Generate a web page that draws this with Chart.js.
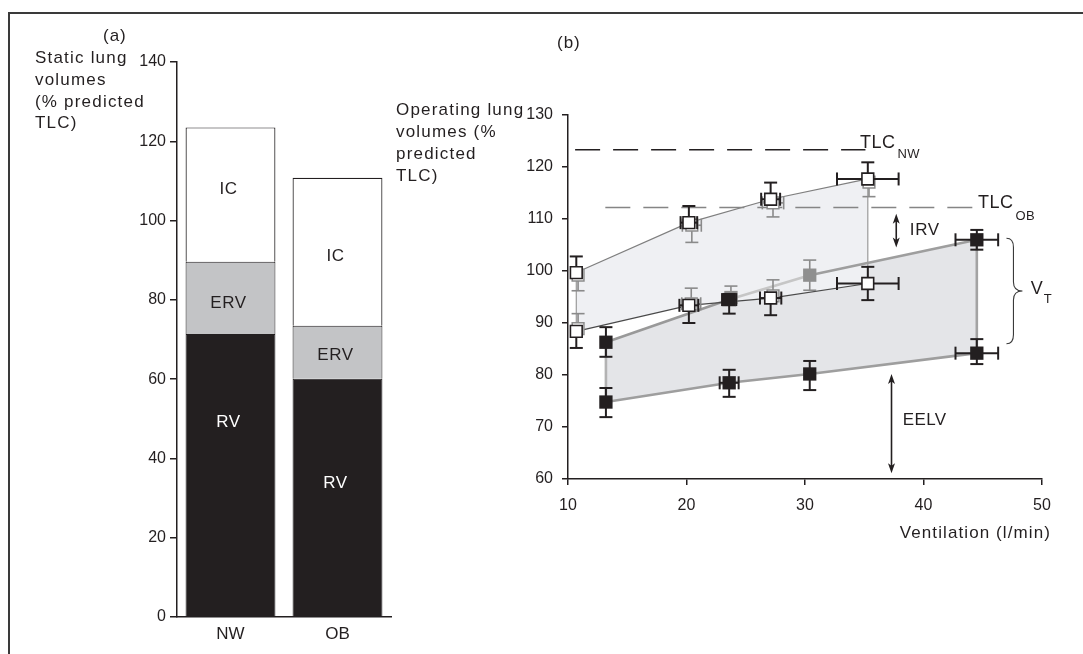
<!DOCTYPE html>
<html><head><meta charset="utf-8">
<script src="https://cdn.jsdelivr.net/npm/chart.js@4"></script>
<style>
html,body{margin:0;padding:0;background:#fff;width:1083px;height:654px;overflow:hidden;}
#frame{position:absolute;left:8px;top:12px;width:1200px;height:800px;border-left:2px solid #3a3a3a;border-top:2px solid #3a3a3a;}
#ca{position:absolute;left:0;top:0;}
#cb{position:absolute;left:392px;top:0;}
</style></head><body>
<div id="frame"></div>
<canvas id="ca" width="392" height="654"></canvas>
<canvas id="cb" width="691" height="654"></canvas>
<script>
// ---------------- Panel (a): static lung volumes ----------------
const barCategories = ['NW', 'OB'];
const rvValues  = [71.4, 60.1];
const ervValues = [18.2, 13.4];
const icValues  = [33.9, 37.3];
const staticTicks = {min: 0, max: 140, step: 20};

// ---------------- Panel (b): operating lung volumes ----------------
// NW, black open squares: first four = upper (inspiratory) curve, last four = end-expiratory curve
const nwX       = [10.7, 20.2, 27.1, 35.3, 10.7, 20.2, 27.1, 35.3];
const nwY       = [99.7, 109.3, 113.8, 117.7, 88.4, 93.4, 94.8, 97.6];
const nwErrUp   = [3.1, 3.2, 3.2, 3.2, 0, 0, 0, 3.2];
const nwErrDown = [0, 0, 0, 0, 3.2, 3.4, 3.3, 3.2];
const nwErrX    = [0, 0.7, 0.8, 2.6, 0, 0.8, 0.9, 2.6];

// grey open squares
const nwGX       = [10.85, 20.45, 27.3, 35.4, 10.85, 20.4, 27.3];
const nwGY       = [99.2, 108.8, 113.1, 117.1, 88.9, 93.7, 95.2];
const nwGErrUp   = [0, 0, 0, 0, 2.9, 3.0, 3.1];
const nwGErrDown = [3.0, 3.3, 2.7, 2.8, 0, 0, 0];
const nwGErrX    = [0, 0.8, 0.9, 0, 0, 0.8, 0];

// OB, black filled squares
const obX       = [13.2, 23.6, 44.5, 13.2, 23.6, 30.4, 44.5];
const obY       = [86.3, 94.5, 106.0, 74.8, 78.5, 80.2, 84.2];
const obErrUp   = [2.9, 0, 1.9, 2.7, 2.5, 2.5, 2.7];
const obErrDown = [2.8, 2.7, 1.9, 2.9, 2.7, 3.1, 2.1];
const obErrX    = [0, 0.6, 1.8, 0, 0.8, 0, 1.8];

// grey filled squares
const obGX       = [23.75, 30.4];
const obGY       = [94.9, 99.2];
const obGErrUp   = [2.2, 2.9];
const obGErrDown = [0, 2.9];

// OB operating envelope
const obUpperX = [13.2, 23.6, 30.4, 44.5];
const obUpperY = [86.3, 94.5, 99.2, 106.0];
const obLowerX = [13.2, 23.6, 30.4, 44.5];
const obLowerY = [74.8, 78.5, 80.2, 84.2];

// TLC reference levels
const tlcNW = 123.3, tlcNWFrom = 10.6, tlcNWTo = 35.1;
const tlcOB = 112.2, tlcOBFrom = 13.15, tlcOBTo = 44.5;

// ---------------- helpers ----------------
const FONT = '"Liberation Sans", Arial, Helvetica, sans-serif';
const INK = '#231f20';
const pts = (xs, ys) => xs.map((x, i) => ({x, y: ys[i]}));

function txt(ctx, s, x, y, size, o = {}) {
  ctx.save();
  ctx.font = size + 'px ' + FONT;
  ctx.fillStyle = o.color || INK;
  ctx.textAlign = o.align || 'left';
  ctx.textBaseline = o.baseline || 'middle';
  if ('letterSpacing' in ctx) ctx.letterSpacing = (o.ls === undefined ? 1 : o.ls) + 'px';
  ctx.fillText(s, x, y);
  const w = ctx.measureText(s).width;
  ctx.restore();
  return w;
}
function seg(ctx, x1, y1, x2, y2) { ctx.beginPath(); ctx.moveTo(x1, y1); ctx.lineTo(x2, y2); ctx.stroke(); }
function head(ctx, x, y, dir) { // dir -1 = up, +1 = down
  ctx.beginPath(); ctx.moveTo(x, y); ctx.lineTo(x - 3.5, y - dir * 10); ctx.lineTo(x, y - dir * 7.5); ctx.lineTo(x + 3.5, y - dir * 10); ctx.closePath(); ctx.fill();
}
function dblArrow(ctx, x, yTop, yBot) {
  ctx.save(); ctx.strokeStyle = INK; ctx.fillStyle = INK; ctx.lineWidth = 1.6;
  seg(ctx, x, yTop + 6, x, yBot - 6); head(ctx, x, yTop, -1); head(ctx, x, yBot, 1); ctx.restore();
}

// ---------------- Panel (a) chart ----------------
const leftText = {
  id: 'leftText',
  afterDraw(chart) {
    const ctx = chart.ctx, xs = chart.scales.x, ys = chart.scales.y;
    txt(ctx, '(a)', 103, 36, 17);
    ['Static lung', 'volumes', '(% predicted', 'TLC)'].forEach((s, i) => txt(ctx, s, 35, 58.5 + i * 21.7, 17, {ls: 1.2}));
    const labels = [
      {s: 'IC', c: 0, v: 108, col: INK}, {s: 'ERV', c: 0, v: 79.2, col: INK}, {s: 'RV', c: 0, v: 49.2, col: '#fff'},
      {s: 'IC', c: 1, v: 91, col: INK}, {s: 'ERV', c: 1, v: 66, col: INK}, {s: 'RV', c: 1, v: 33.8, col: '#fff'}
    ];
    labels.forEach(l => txt(ctx, l.s, xs.getPixelForValue(l.c) - 2, ys.getPixelForValue(l.v), 17, {align: 'center', color: l.col, ls: 0.6}));
  }
};

new Chart(document.getElementById('ca'), {
  type: 'bar',
  data: {
    labels: barCategories,
    datasets: [
      {label: 'RV', data: rvValues, backgroundColor: INK, borderColor: INK, borderWidth: 1},
      {label: 'ERV', data: ervValues, backgroundColor: '#c3c4c6', borderColor: INK, borderWidth: 1},
      {label: 'IC', data: icValues, backgroundColor: '#ffffff', borderColor: INK, borderWidth: 1.2}
    ]
  },
  options: {
    responsive: false, animation: false, events: [],
    layout: {padding: {left: 0, top: 62, right: 1, bottom: 0}},
    plugins: {legend: {display: false}, tooltip: {enabled: false}},
    datasets: {bar: {categoryPercentage: 1, barPercentage: 0.84}},
    scales: {
      x: {stacked: true, grid: {display: false, drawTicks: false}, border: {color: INK, width: 1.5},
          ticks: {font: {family: FONT, size: 17}, color: INK, padding: 7}, afterFit(s) { s.height = 37; }},
      y: {stacked: true, min: staticTicks.min, max: staticTicks.max,
          ticks: {stepSize: staticTicks.step, font: {family: FONT, size: 16}, color: INK, padding: 4},
          grid: {drawOnChartArea: false, drawTicks: true, tickLength: 7, color: INK, lineWidth: 1.5},
          border: {color: INK, width: 1.5}, afterFit(s) { s.width = 177; }}
    }
  },
  plugins: [leftText]
});

// ---------------- Panel (b) chart ----------------
const OFF = 392;
const errorBars = {
  id: 'errorBars',
  beforeDatasetDraw(chart, args) {
    const ds = chart.data.datasets[args.index];
    const e = ds.errors; if (!e) return;
    const ctx = chart.ctx, xs = chart.scales.x, ys = chart.scales.y, cap = 6.5;
    ctx.save(); ctx.strokeStyle = e.color; ctx.lineWidth = e.width;
    ds.data.forEach((p, i) => {
      const px = xs.getPixelForValue(p.x), py = ys.getPixelForValue(p.y);
      if (e.up && e.up[i]) { const y2 = ys.getPixelForValue(p.y + e.up[i]); seg(ctx, px, py, px, y2); seg(ctx, px - cap, y2, px + cap, y2); }
      if (e.down && e.down[i]) { const y2 = ys.getPixelForValue(p.y - e.down[i]); seg(ctx, px, py, px, y2); seg(ctx, px - cap, y2, px + cap, y2); }
      if (e.x && e.x[i]) {
        const x1 = xs.getPixelForValue(p.x - e.x[i]), x2 = xs.getPixelForValue(p.x + e.x[i]);
        seg(ctx, x1, py, x2, py); seg(ctx, x1, py - cap, x1, py + cap); seg(ctx, x2, py - cap, x2, py + cap);
      }
    });
    ctx.restore();
  }
};

const rightText = {
  id: 'rightText',
  afterDraw(chart) {
    const ctx = chart.ctx, xs = chart.scales.x, ys = chart.scales.y;
    const X = v => xs.getPixelForValue(v), Y = v => ys.getPixelForValue(v);
    txt(ctx, '(b)', 557 - OFF, 43, 17);
    ['Operating lung', 'volumes (%', 'predicted', 'TLC)'].forEach((s, i) => txt(ctx, s, 396 - OFF, 110.5 + i * 21.8, 17, {ls: 1.2}));
    txt(ctx, 'Ventilation (l/min)', 1051 - OFF, 533, 17, {align: 'right', ls: 1.1});
    // TLC labels
    let w = txt(ctx, 'TLC', X(34.65), Y(tlcNW) - 2, 18, {baseline: 'alphabetic', ls: 0.5});
    txt(ctx, 'NW', X(34.65) + w + 2, Y(tlcNW) + 8.5, 13, {baseline: 'alphabetic', ls: 0.3});
    w = txt(ctx, 'TLC', X(44.6), Y(tlcOB) + 0.5, 18, {baseline: 'alphabetic', ls: 0.5});
    txt(ctx, 'OB', X(44.6) + w + 2, Y(tlcOB) + 12, 13, {baseline: 'alphabetic', ls: 0.3});
    // IRV
    dblArrow(ctx, X(37.7), Y(111.0), Y(104.5));
    txt(ctx, 'IRV', X(38.85), Y(107.9), 17, {ls: 0.6});
    // EELV
    dblArrow(ctx, X(37.3), Y(80.2), Y(61.1));
    txt(ctx, 'EELV', X(38.25), Y(71.3), 17, {ls: 0.4});
    // V_T brace
    const x0 = X(47.0), yT = Y(106.3), yB = Y(86.0), ym = (yT + yB) / 2, xm = x0 + 7, xt = x0 + 16, r = 9;
    ctx.save(); ctx.strokeStyle = '#3a3a3a'; ctx.lineWidth = 1.1; ctx.beginPath();
    ctx.moveTo(x0, yT); ctx.quadraticCurveTo(xm, yT, xm, yT + r); ctx.lineTo(xm, ym - r);
    ctx.quadraticCurveTo(xm, ym, xt, ym); ctx.quadraticCurveTo(xm, ym, xm, ym + r);
    ctx.lineTo(xm, yB - r); ctx.quadraticCurveTo(xm, yB, x0, yB); ctx.stroke(); ctx.restore();
    w = txt(ctx, 'V', X(49.05), Y(96.45), 18, {ls: 0});
    txt(ctx, 'T', X(49.05) + w + 1, Y(94.5), 13, {ls: 0});
  }
};

const nwOutline = [0, 1, 2, 3, 7, 6, 5, 4, 0].map(i => ({x: nwX[i], y: nwY[i]}));
const obOutline = pts(obUpperX, obUpperY).concat(pts(obLowerX, obLowerY).reverse(), [{x: obUpperX[0], y: obUpperY[0]}]);
const nwSegColors = ['#7f7f7f', '#7f7f7f', '#7f7f7f', '#9a9a9a', '#4a4a4a', '#4a4a4a', '#4a4a4a', '#9a9a9a'];
const obSegColors = ['#999999', '#c6c6c6', '#9e9e9e', '#a3a3a3', '#9e9e9e', '#9e9e9e', '#9e9e9e', '#b3b3b3'];

const lineDs = (data, extra) => Object.assign({data, showLine: true, pointRadius: 0, fill: false, borderWidth: 0, clip: false}, extra);

new Chart(document.getElementById('cb'), {
  type: 'scatter',
  data: {
    datasets: [
      {label: 'OB', data: pts(obX, obY), pointStyle: 'rect', pointRadius: 9.4, backgroundColor: INK, borderWidth: 0, order: 0, clip: false,
       errors: {up: obErrUp, down: obErrDown, x: obErrX, color: INK, width: 2}},
      {label: 'NW', data: pts(nwX, nwY), pointStyle: 'rect', pointRadius: 8.3, backgroundColor: '#fff', borderColor: INK, borderWidth: 1.6, order: 1, clip: false,
       errors: {up: nwErrUp, down: nwErrDown, x: nwErrX, color: INK, width: 2}},
      {label: 'OB grey', data: pts(obGX, obGY), pointStyle: 'rect', pointRadius: 9.4, backgroundColor: '#8f8f8f', borderWidth: 0, order: 2, clip: false,
       errors: {up: obGErrUp, down: obGErrDown, color: '#8a8a8a', width: 1.6}},
      {label: 'NW grey', data: pts(nwGX, nwGY), pointStyle: 'rect', pointRadius: 8.3, backgroundColor: '#fff', borderColor: '#8c8c8c', borderWidth: 1.5, order: 3, clip: false,
       errors: {up: nwGErrUp, down: nwGErrDown, x: nwGErrX, color: '#8a8a8a', width: 1.6}},
      lineDs([{x: tlcNWFrom, y: tlcNW}, {x: tlcNWTo, y: tlcNW}], {borderColor: INK, borderWidth: 1.5, borderDash: [25, 13], order: 5}),
      lineDs([{x: tlcOBFrom, y: tlcOB}, {x: tlcOBTo, y: tlcOB}], {borderColor: '#858585', borderWidth: 1.6, borderDash: [25, 13], order: 5}),
      lineDs(nwOutline, {borderWidth: 1.2, borderColor: '#7f7f7f', order: 6,
        segment: {borderColor: c => nwSegColors[c.p0DataIndex]}}),
      lineDs(obOutline, {borderWidth: 2.6, borderColor: '#9e9e9e', order: 7,
        segment: {borderColor: c => obSegColors[c.p0DataIndex]}}),
      lineDs(pts(nwX.slice(0, 4), nwY.slice(0, 4)), {fill: '+1', backgroundColor: '#eff0f3', order: 8}),
      lineDs(pts(nwX.slice(4, 8), nwY.slice(4, 8)), {order: 8}),
      lineDs(pts(obUpperX, obUpperY), {fill: '+1', backgroundColor: '#e4e5e8', order: 9}),
      lineDs(pts(obLowerX, obLowerY), {order: 9})
    ]
  },
  options: {
    responsive: false, animation: false, events: [],
    layout: {padding: {left: 0, top: 115, right: 41, bottom: 0}},
    plugins: {legend: {display: false}, tooltip: {enabled: false}},
    scales: {
      x: {type: 'linear', min: 10, max: 50,
          ticks: {stepSize: 10, font: {family: FONT, size: 16}, color: INK, padding: 11, maxRotation: 0, autoSkip: false},
          grid: {drawOnChartArea: false, tickLength: 6, color: INK, lineWidth: 1.5},
          border: {color: INK, width: 1.5}, afterFit(s) { s.height = 175; }},
      y: {type: 'linear', min: 60, max: 130,
          ticks: {stepSize: 10, font: {family: FONT, size: 16}, color: INK, padding: 9},
          grid: {drawOnChartArea: false, tickLength: 6, color: INK, lineWidth: 1.5},
          border: {color: INK, width: 1.5}, afterFit(s) { s.width = 176; }}
    }
  },
  plugins: [errorBars, rightText]
});
</script>
</body></html>
